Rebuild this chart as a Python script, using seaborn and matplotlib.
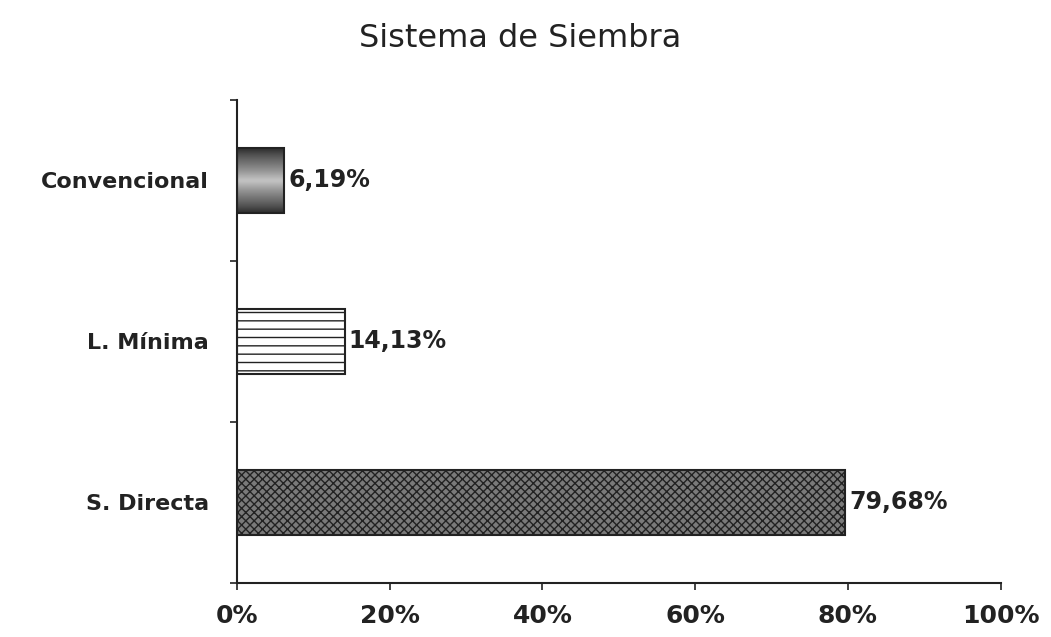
import matplotlib
matplotlib.use("Agg")
import matplotlib.pyplot as plt
import numpy as np
import pandas as pd
import seaborn as sns
from matplotlib.ticker import FuncFormatter

categories = ["Convencional", "L. Mínima", "S. Directa"]
values = [6.19, 14.13, 79.68]
value_labels = ["6,19%", "14,13%", "79,68%"]
title = "Sistema de Siembra"

sns.set_style("white")
plt.rcParams["font.family"] = ["DejaVu Sans"]
plt.rcParams["hatch.color"] = "#2a2a2a"

df = pd.DataFrame({"sistema": categories, "pct": values})

fig = plt.figure(figsize=(10.51, 6.37), dpi=100)
ax = fig.add_axes([0.2255, 0.085, 0.7265, 0.758])

sns.barplot(data=df, y="sistema", x="pct", order=categories, orient="h",
            width=0.4, color="white", edgecolor="#222222", linewidth=1.5, ax=ax)

bars = ax.patches
# Convencional: grey gradient, dark at the edges
b = bars[0]
b.set_facecolor("none")
x0, y0 = b.get_x(), b.get_y()
w, h = b.get_width(), b.get_height()
grad = np.abs(np.linspace(-1, 1, 64))[:, None]
im = ax.imshow(grad, extent=[x0, x0 + w, y0 + h, y0], aspect="auto",
               cmap="Greys", vmin=-0.7, vmax=1.3, zorder=b.get_zorder() - 0.1,
               interpolation="bicubic")
im.set_clip_path(b)
# L. Minima: white with horizontal stripes
bars[1].set_facecolor("white")
bars[1].set_hatch("--")
# S. Directa: dark dotted crosshatch
bars[2].set_facecolor("#7a7a7a")
bars[2].set_hatch("xxxx")
for p in bars:
    p.set_edgecolor("#222222")

for i, (v, lab) in enumerate(zip(values, value_labels)):
    ax.text(v + 0.5, i, lab, va="center", ha="left",
            fontsize=17, fontweight="bold", color="#222222")

ax.set_xlim(0, 100)
ax.set_ylim(2.5, -0.5)
ax.set_xticks([0, 20, 40, 60, 80, 100])
ax.xaxis.set_major_formatter(FuncFormatter(lambda v, _: f"{int(v)}%"))
ax.set_yticks([-0.5, 0.5, 1.5, 2.5], minor=False)
ax.set_yticklabels([])
ax.set_yticks([0, 1, 2], minor=True)
ax.set_yticklabels(categories, minor=True)
ax.tick_params(axis="y", which="major", length=5, width=1.2, direction="out",
               left=True, color="#222222")
ax.tick_params(axis="y", which="minor", length=0, pad=20, labelsize=16)
ax.tick_params(axis="x", length=5, width=1.2, direction="out", bottom=True,
               color="#222222", labelsize=18, pad=10)
for lab in ax.get_yticklabels(minor=True) + ax.get_xticklabels():
    lab.set_fontweight("bold")
    lab.set_color("#222222")

ax.set_xlabel("")
ax.set_ylabel("")
for s in ["top", "right"]:
    ax.spines[s].set_visible(False)
for s in ["left", "bottom"]:
    ax.spines[s].set_color("#222222")
    ax.spines[s].set_linewidth(1.5)

fig.text(0.495, 0.94, title, ha="center", va="center", fontsize=23,
         color="#222222")

fig.savefig("out.png", dpi=100)
